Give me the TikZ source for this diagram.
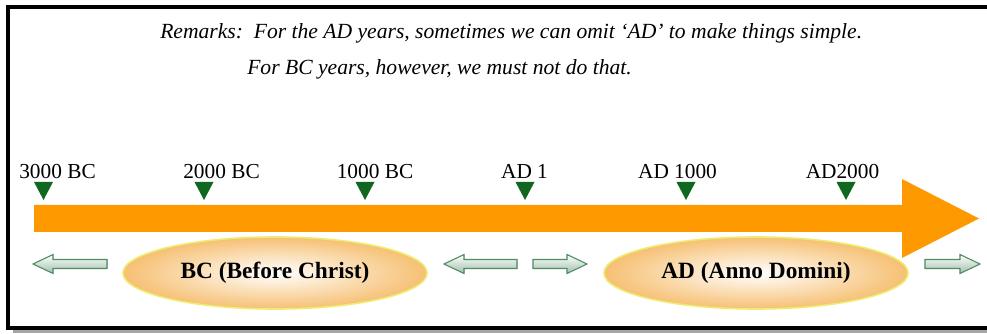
\documentclass[tikz,border=0pt]{standalone}
\usepackage{fontspec}
\setmainfont{Liberation Serif}[BoldFont={Liberation Serif Bold},ItalicFont={Liberation Serif Italic}]
\usetikzlibrary{shapes.geometric}
\definecolor{barorange}{RGB}{255,153,0}
\definecolor{markgreen}{RGB}{16,104,32}
\definecolor{arrowgreen}{RGB}{80,140,100}
\definecolor{eraedge}{RGB}{238,235,110}
\definecolor{erafill}{RGB}{246,192,115}

\begin{document}
\begin{tikzpicture}[x=0.75pt,y=-0.75pt,
  yearlabel/.style={anchor=base,inner sep=0pt,font=\fontsize{16}{19}\selectfont},
  erabox/.style={ellipse,draw=eraedge,line width=1.2pt,inner color=white,outer color=erafill,
    minimum width=228pt,minimum height=54pt,inner sep=0pt,font=\fontsize{17.5}{21}\selectfont\bfseries},
  pointer/.style={draw=arrowgreen,line width=0.8pt,top color=white,bottom color=arrowgreen!55},
  remark/.style={anchor=base west,inner sep=0pt,font=\fontsize{16.2}{19}\selectfont\itshape}]
  \useasboundingbox (0,0) rectangle (987,334);

  % frame with its shadow
  \fill[gray!70] (13,12) rectangle (1000,333);
  \draw[line width=3pt,fill=white] (7.75,7) rectangle (1005,328);

  \node[remark] (rem1) at (160,39) {Remarks:\ \ For the AD years, sometimes we can omit `AD' to make things simple.};
  \node[remark] (rem2) at (247,75) {For BC years, however, we must not do that.};

  % the time line
  \fill[barorange] (34,205) -- (902,205) -- (902,179) -- (979,218.5) -- (902,258) -- (902,232) -- (34,232) -- cycle;

  \foreach \m/\l/\t [count=\i] in {43.5/57.5/3000 BC, 204/221.5/2000 BC, 365/375/1000 BC, 525/524.5/AD 1, 686/677.5/AD 1000, 846/842.5/AD2000} {
     \fill[markgreen] (\m-9.5,182) -- (\m+9.5,182) -- (\m,200) -- cycle;
     \node[yearlabel] (year\i) at (\l,179) {\t};
  }

  \node[erabox] (bc) at (275,273) {BC (Before Christ)};
  \node[erabox] (ad) at (756,273) {AD (Anno Domini)};

  % hollow arrows: tail / tip
  \foreach \a/\b in {107/33, 517/444, 533/587, 925/980}
     \filldraw[pointer] (\a,259.5) -- ({\b+20*sign(\a-\b)},259.5) -- ({\b+20*sign(\a-\b)},254.5) -- (\b,264)
        -- ({\b+20*sign(\a-\b)},273.5) -- ({\b+20*sign(\a-\b)},268.5) -- (\a,268.5) -- cycle;
\end{tikzpicture}
\end{document}
